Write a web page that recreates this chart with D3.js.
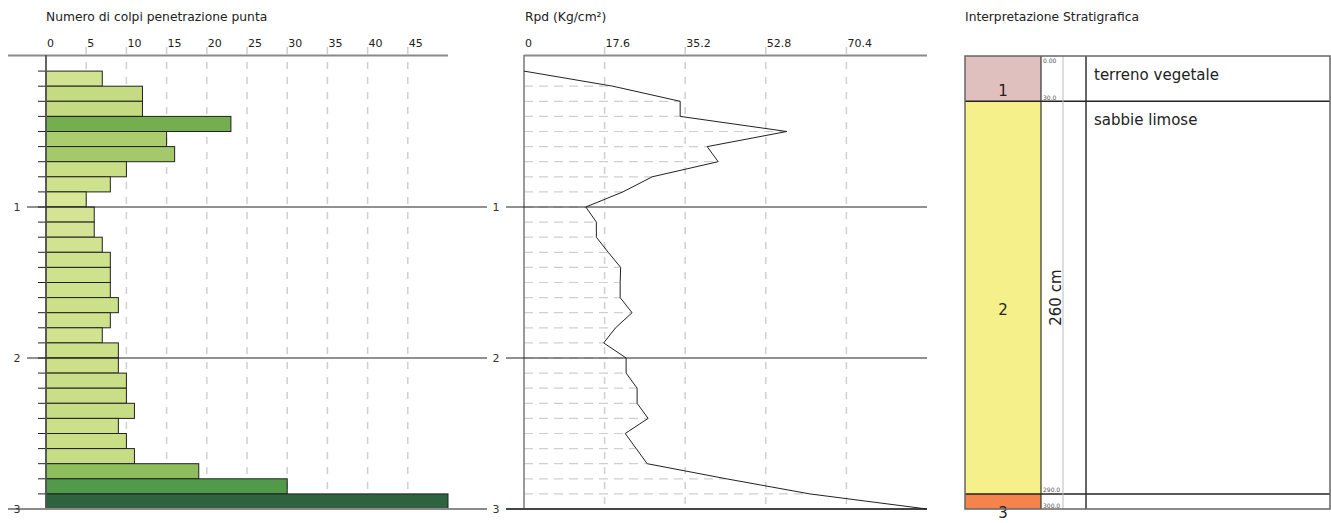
<!DOCTYPE html>
<html><head><meta charset="utf-8">
<script src="https://cdn.jsdelivr.net/npm/d3@7"></script>
<style>html,body{margin:0;padding:0;background:#fff;}svg{display:block;font-family:"DejaVu Sans",Verdana,sans-serif;}</style>
</head><body>
<svg id="c" width="1331" height="523"></svg>
<script>
// ---------- data ----------
const depthTicks = [1, 2, 3];
const blowsTicks = [0, 5, 10, 15, 20, 25, 30, 35, 40, 45];
const barTops = [0.1,0.2,0.3,0.4,0.5,0.6,0.7,0.8,0.9,1.0,1.1,1.2,1.3,1.4,1.5,1.6,1.7,1.8,1.9,2.0,2.1,2.2,2.3,2.4,2.5,2.6,2.7,2.8,2.9];
const blows = [7,12,12,23,15,16,10,8,5,6,6,7,8,8,8,9,8,7,9,9,10,10,11,9,10,11,19,30,50];
const rpdTicks = [0, 17.6, 35.2, 52.8, 70.4];
const rpdDepths = [0.1,0.2,0.3,0.4,0.5,0.6,0.7,0.8,0.9,1.0,1.1,1.2,1.3,1.4,1.5,1.6,1.7,1.8,1.9,2.0,2.1,2.2,2.3,2.4,2.5,2.6,2.7,2.8,2.9,3.0];
const rpd = [0,19.4,34.1,34.1,57.4,40.0,42.4,28.0,21.6,13.5,15.8,15.8,18.4,21.1,21.0,21.0,23.6,20.0,17.4,22.3,22.3,24.7,24.7,27.1,22.1,24.5,26.9,44.2,62.4,88.0];
const layerNames = ["1", "2", "3"];
const layerTops = [0, 0.3, 2.9];
const layerBottoms = [0.3, 2.9, 3.0];
const layerColors = ["#e0bfbf", "#f5f08a", "#f4844c"];
const layerDescriptions = ["terreno vegetale", "sabbie limose", ""];
const depthLabelValues = [0, 0.3, 2.9, 3.0];
const depthLabelTexts = ["0.00", "30.0", "290.0", "300.0"];
const thicknessLabel = "260 cm";

// ---------- scales ----------
const svg = d3.select("#c");
const y = d3.scaleLinear().domain([0, 3]).range([56, 509]);
const xB = d3.scaleLinear().domain([0, 50]).range([46, 448]);
const xR = d3.scaleLinear().domain([0, 88]).range([524, 927]);
const barColor = d3.scaleLinear()
  .domain([5, 8, 12, 15, 19, 23, 30, 50])
  .range(["#d8e698", "#cee18c", "#c4db82", "#abcd6e", "#8ebd5e", "#75ae4f", "#509a4a", "#2f623f"]);

// ---------- left chart ----------
const L = svg.append("g");
L.append("text").attr("x", 46).attr("y", 20.5).attr("font-size", 12.3).attr("fill", "#222")
  .text("Numero di colpi penetrazione punta");
L.selectAll(".vg").data(blowsTicks.filter(d => d > 0)).join("line")
  .attr("x1", d => xB(d)).attr("x2", d => xB(d)).attr("y1", 47).attr("y2", y(3))
  .attr("stroke", "#cfcfcf").attr("stroke-width", 1.5).attr("stroke-dasharray", "7,8");
L.selectAll(".tl").data(blowsTicks).join("text")
  .attr("x", d => xB(d) + 1).attr("y", 46.5).attr("font-size", 11).attr("fill", "#222")
  .text(d => d);
L.selectAll(".bar").data(blows).join("rect")
  .attr("x", xB(0)).attr("y", (d, i) => y(barTops[i]))
  .attr("width", d => xB(d) - xB(0)).attr("height", (d, i) => y(barTops[i] + 0.1) - y(barTops[i]))
  .attr("fill", d => barColor(d)).attr("stroke", "#222").attr("stroke-width", 1);
L.selectAll(".mt").data(barTops).join("line")
  .attr("x1", 38).attr("x2", xB(0)).attr("y1", d => y(d)).attr("y2", d => y(d))
  .attr("stroke", "#222").attr("stroke-width", 1);
L.append("line").attr("x1", 8).attr("x2", 448).attr("y1", 55.5).attr("y2", 55.5)
  .attr("stroke", "#8a8a8a").attr("stroke-width", 2);
L.append("line").attr("x1", xB(0)).attr("x2", xB(0)).attr("y1", 55).attr("y2", y(3))
  .attr("stroke", "#555").attr("stroke-width", 1.8);
L.append("line").attr("x1", 8).attr("x2", 487).attr("y1", y(3)).attr("y2", y(3))
  .attr("stroke", "#8a8a8a").attr("stroke-width", 2);
L.selectAll(".dl").data(depthTicks.filter(d => d < 3)).join("line")
  .attr("x1", 27).attr("x2", 487).attr("y1", d => y(d)).attr("y2", d => y(d))
  .attr("stroke", "#222").attr("stroke-width", 1);
L.selectAll(".dt").data(depthTicks).join("text")
  .attr("x", 17).attr("y", d => y(d) + 4).attr("text-anchor", "middle")
  .attr("font-size", 11).attr("fill", "#333").text(d => d);

// ---------- middle chart ----------
const M = svg.append("g");
M.append("text").attr("x", 525).attr("y", 20.5).attr("font-size", 12.3).attr("fill", "#222")
  .text("Rpd (Kg/cm²)");
M.selectAll(".vg").data(rpdTicks.filter(d => d > 0)).join("line")
  .attr("x1", d => xR(d)).attr("x2", d => xR(d)).attr("y1", 47).attr("y2", y(3))
  .attr("stroke", "#cfcfcf").attr("stroke-width", 1.5).attr("stroke-dasharray", "7,8");
M.selectAll(".tl").data(rpdTicks).join("text")
  .attr("x", d => xR(d) + 1).attr("y", 46.5).attr("font-size", 11).attr("fill", "#222")
  .text(d => d);
M.selectAll(".hg").data(rpd).join("line")
  .attr("x1", xR(0)).attr("x2", d => xR(d))
  .attr("y1", (d, i) => y(rpdDepths[i])).attr("y2", (d, i) => y(rpdDepths[i]))
  .attr("stroke", "#cfcfcf").attr("stroke-width", 1.2).attr("stroke-dasharray", "9,6");
M.append("line").attr("x1", xR(0)).attr("x2", 927).attr("y1", 55.5).attr("y2", 55.5)
  .attr("stroke", "#8a8a8a").attr("stroke-width", 2);
M.append("line").attr("x1", xR(0)).attr("x2", xR(0)).attr("y1", 55).attr("y2", y(3))
  .attr("stroke", "#777").attr("stroke-width", 1.5);
M.selectAll(".dl").data(depthTicks).join("line")
  .attr("x1", 506).attr("x2", 927).attr("y1", d => y(d)).attr("y2", d => y(d))
  .attr("stroke", d => d === 3 ? "#444" : "#222").attr("stroke-width", d => d === 3 ? 1.8 : 1);
M.selectAll(".dt").data(depthTicks).join("text")
  .attr("x", 496).attr("y", d => y(d) + 4).attr("text-anchor", "middle")
  .attr("font-size", 11).attr("fill", "#333").text(d => d);
const line = d3.line().x(d => xR(d)).y((d, i) => y(rpdDepths[i]));
M.append("path").attr("d", line(rpd)).attr("fill", "none").attr("stroke", "#222").attr("stroke-width", 1);

// ---------- right panel ----------
const R = svg.append("g");
const cx0 = 965, cx1 = 1041, cx2 = 1063, cx3 = 1086, cx4 = 1330;
R.append("text").attr("x", cx0).attr("y", 20.5).attr("font-size", 12.3).attr("fill", "#222")
  .text("Interpretazione Stratigrafica");
R.selectAll(".ly").data(layerNames).join("rect")
  .attr("x", cx0).attr("y", (d, i) => y(layerTops[i])).attr("width", cx1 - cx0)
  .attr("height", (d, i) => y(layerBottoms[i]) - y(layerTops[i]))
  .attr("fill", (d, i) => layerColors[i]);
R.selectAll(".ln").data(layerNames).join("text")
  .attr("x", (cx0 + cx1) / 2).attr("y", (d, i) => (y(layerTops[i]) + y(layerBottoms[i])) / 2 + 17)
  .attr("text-anchor", "middle").attr("font-size", 15).attr("fill", "#222").text(d => d);
R.selectAll(".lb").data(layerTops.slice(1)).join("line")
  .attr("x1", cx0).attr("x2", cx4).attr("y1", d => y(d)).attr("y2", d => y(d))
  .attr("stroke", "#222").attr("stroke-width", 1.5);
R.append("line").attr("x1", cx2).attr("x2", cx2).attr("y1", y(0)).attr("y2", y(3)).attr("stroke", "#bbb").attr("stroke-width", 1);
R.append("line").attr("x1", cx1).attr("x2", cx1).attr("y1", y(0)).attr("y2", y(3)).attr("stroke", "#333").attr("stroke-width", 1.2);
R.append("line").attr("x1", cx3).attr("x2", cx3).attr("y1", y(0)).attr("y2", y(3)).attr("stroke", "#333").attr("stroke-width", 1.5);
R.append("rect").attr("x", cx0).attr("y", y(0)).attr("width", cx4 - cx0).attr("height", y(3) - y(0))
  .attr("fill", "none").attr("stroke", "#666").attr("stroke-width", 1.5);
R.selectAll(".dlab").data(depthLabelTexts).join("text")
  .attr("x", cx1 + 2).attr("y", (d, i) => i === 0 ? y(depthLabelValues[i]) + 7 : y(depthLabelValues[i]) - 1.5)
  .attr("font-size", 6).attr("fill", "#555").text(d => d);
const midL2 = (y(layerTops[1]) + y(layerBottoms[1])) / 2;
R.append("text").attr("transform", `translate(1061,${midL2}) rotate(-90)`)
  .attr("text-anchor", "middle").attr("font-size", 15).attr("fill", "#222").text(thicknessLabel);
R.selectAll(".desc").data(layerDescriptions).join("text")
  .attr("x", cx3 + 8).attr("y", (d, i) => y(layerTops[i]) + 24)
  .attr("font-size", 15).attr("fill", "#222").text(d => d);
</script>
</body></html>
